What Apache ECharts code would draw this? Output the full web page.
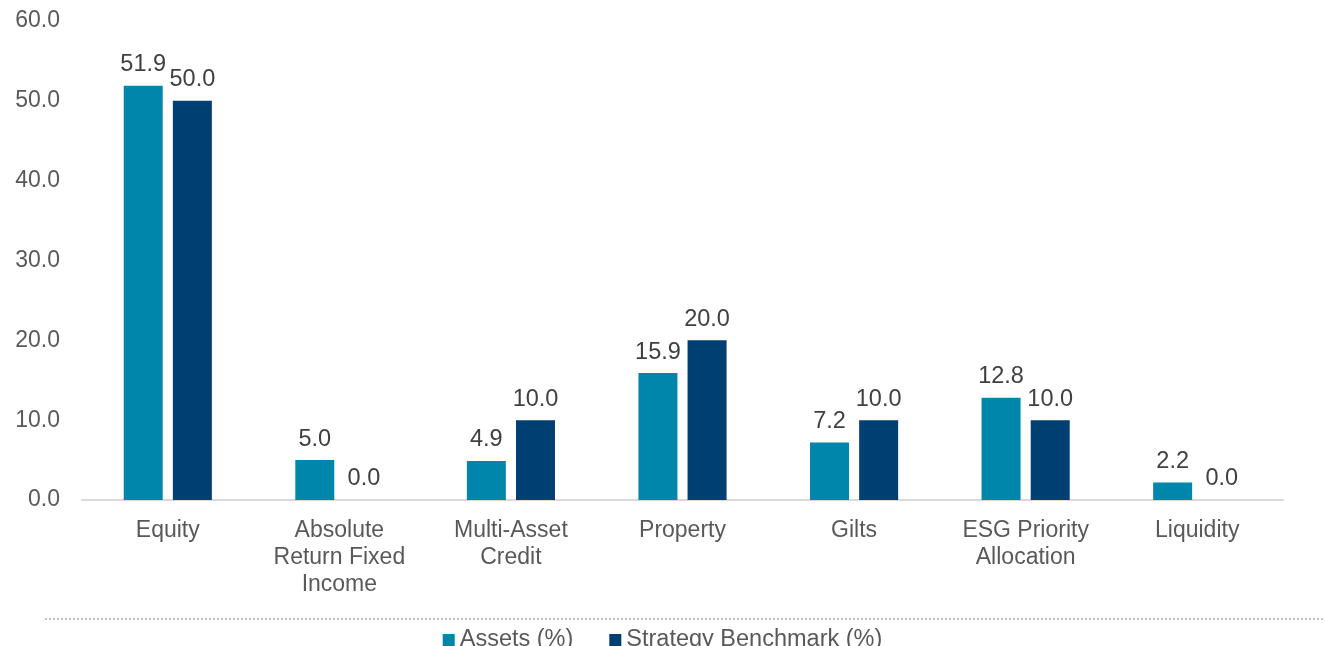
<!DOCTYPE html>
<html>
<head>
<meta charset="utf-8">
<script src="https://cdn.jsdelivr.net/npm/echarts@6/dist/echarts.min.js"></script>
<style>
  html, body { margin: 0; padding: 0; background: #fff; }
  #chart { width: 1325px; height: 646px; }
</style>
</head>
<body>
<div id="chart"></div>
<script>
// categories and values
const categories = ['Equity', 'Absolute\nReturn Fixed\nIncome', 'Multi-Asset\nCredit', 'Property', 'Gilts', 'ESG Priority\nAllocation', 'Liquidity']
const assets = [51.9, 5.0, 4.9, 15.9, 7.2, 12.8, 2.2]
const benchmark = [50.0, 0.0, 10.0, 20.0, 10.0, 10.0, 0.0]
const seriesNames = ['Assets (%)', 'Strategy Benchmark (%)']

const chart = echarts.init(document.getElementById('chart'))

const labelStyle = {
  show: true,
  position: 'top',
  distance: 9,
  color: '#404040',
  fontSize: 23.5,
  fontFamily: 'Liberation Sans, Arial',
  formatter: (p) => p.value.toFixed(1)
}

const option = {
  animation: false,
  textStyle: { fontFamily: 'Liberation Sans, Arial' },
  grid: {
    left: 82,
    right: 42,
    top: 21,
    bottom: 146
  },
  legend: {
    top: 623,
    left: 'center',
    itemWidth: 12,
    itemHeight: 12,
    itemGap: 36,
    icon: 'rect',
    textStyle: { fontSize: 23.5, color: '#595959' },
    data: seriesNames
  },
  xAxis: {
    type: 'category',
    data: categories,
    axisLine: { lineStyle: { color: '#d9d9d9', width: 2 } },
    axisTick: { show: false },
    axisLabel: {
      interval: 0,
      color: '#595959',
      fontSize: 23,
      lineHeight: 27,
      margin: 17
    }
  },
  yAxis: {
    type: 'value',
    min: 0,
    max: 60,
    interval: 10,
    splitLine: { show: false },
    axisLine: { show: false },
    axisTick: { show: false },
    axisLabel: {
      color: '#595959',
      fontSize: 23,
      margin: 22,
      formatter: (v) => v.toFixed(1)
    }
  },
  graphic: [
    {
      type: 'line',
      shape: { x1: 45, y1: 619, x2: 1325, y2: 619 },
      style: { stroke: '#bfbfbf', lineWidth: 2, lineDash: [2, 2] }
    }
  ],
  series: [
    {
      name: seriesNames[0],
      type: 'bar',
      data: assets,
      barWidth: 39,
      barGap: '26%',
      itemStyle: { color: '#0086ab' },
      label: labelStyle
    },
    {
      name: seriesNames[1],
      type: 'bar',
      data: benchmark,
      barWidth: 39,
      itemStyle: { color: '#003f72' },
      label: labelStyle
    }
  ]
}

chart.setOption(option)
</script>
</body>
</html>
